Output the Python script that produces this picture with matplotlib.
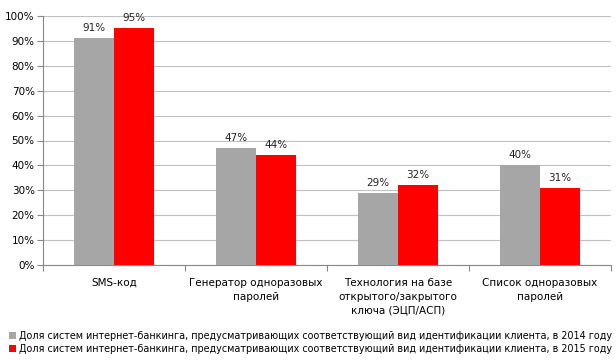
import numpy as np
import matplotlib.pyplot as plt
from matplotlib.ticker import PercentFormatter

categories = ["SMS-код", "Генератор одноразовых\nпаролей",
              "Технология на базе\nоткрытого/закрытого\nключа (ЭЦП/АСП)",
              "Список одноразовых\nпаролей"]
vals_2014 = [91, 47, 29, 40]
vals_2015 = [95, 44, 32, 31]
label_2014 = "Доля систем интернет-банкинга, предусматривающих соответствующий вид идентификации клиента, в 2014 году"
label_2015 = "Доля систем интернет-банкинга, предусматривающих соответствующий вид идентификации клиента, в 2015 году"

plt.rcParams['font.family'] = ['DejaVu Sans']

fig = plt.figure(figsize=(6.16, 3.63), dpi=100)
ax = fig.add_axes([43/616, 98/363, 568/616, 249/363])

x = np.arange(len(categories))
w = 0.28
b1 = ax.bar(x - w/2, vals_2014, w, color="#a6a6a6", label=label_2014, zorder=3)
b2 = ax.bar(x + w/2, vals_2015, w, color="#ff0000", label=label_2015, zorder=3)

for bars in (b1, b2):
    for r in bars:
        ax.text(r.get_x() + r.get_width()/2, r.get_height() + 2, "%d%%" % r.get_height(),
                ha="center", va="bottom", fontsize=7.5, color="#222222")

ax.set_xlim(-0.5, len(categories) - 0.5)
ax.set_ylim(0, 100)
ax.set_yticks(np.arange(0, 101, 10))
ax.yaxis.set_major_formatter(PercentFormatter(decimals=0))
ax.grid(axis="y", color="#c0c0c0", linewidth=0.8, zorder=0)

ax.set_xticks(np.arange(-0.5, len(categories), 1.0))
ax.set_xticklabels([])
ax.set_xticks(x, minor=True)
ax.set_xticklabels(categories, minor=True, fontsize=7.5, linespacing=1.5)
ax.tick_params(axis="x", which="minor", length=0, pad=9)
ax.tick_params(axis="x", which="major", length=4, color="#888888")
ax.tick_params(axis="y", length=4, color="#888888", labelsize=7.5, pad=2)

for s in ("top", "right"):
    ax.spines[s].set_visible(False)
for s in ("left", "bottom"):
    ax.spines[s].set_color("#888888")

fig.legend(handles=[b1, b2], loc="lower left", bbox_to_anchor=(0.005, 0.01),
           frameon=False, fontsize=6.9, handlelength=0.7, handleheight=0.7,
           handletextpad=0.4, labelspacing=0.3, borderaxespad=0.2)

fig.savefig("out.png", dpi=100)
